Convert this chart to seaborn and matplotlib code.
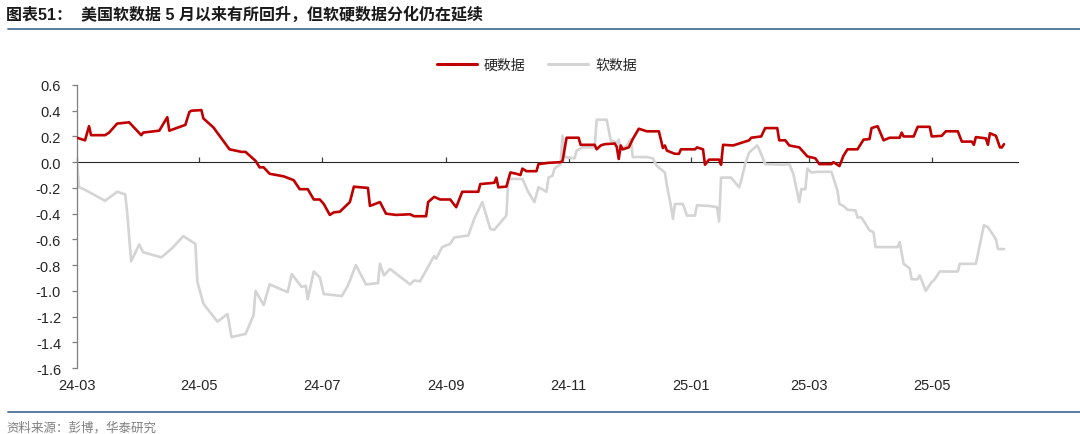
import pandas as pd
import seaborn as sns
import matplotlib.pyplot as plt
import matplotlib.dates as mdates
from matplotlib.lines import Line2D
from matplotlib.ticker import MultipleLocator, FuncFormatter, NullFormatter

# ------------------ DATA ------------------
TITLE = '图表51：  美国软数据 5 月以来有所回升，但软硬数据分化仍在延续'
SOURCE = '资料来源：彭博，华泰研究'
SERIES_NAMES = ['硬数据', '软数据']

hard_dates = [
    '2024-03-01', '2024-03-05', '2024-03-07', '2024-03-08', '2024-03-15', '2024-03-17',
    '2024-03-21', '2024-03-27', '2024-03-30', '2024-04-02', '2024-04-03', '2024-04-11',
    '2024-04-15', '2024-04-16', '2024-04-24', '2024-04-26', '2024-04-27', '2024-05-02',
    '2024-05-03', '2024-05-08', '2024-05-16', '2024-05-22', '2024-05-24', '2024-05-29',
    '2024-05-31', '2024-06-02', '2024-06-05', '2024-06-12', '2024-06-17', '2024-06-20',
    '2024-06-24', '2024-06-27', '2024-06-30', '2024-07-02', '2024-07-05', '2024-07-07',
    '2024-07-10', '2024-07-15', '2024-07-17', '2024-07-20', '2024-07-24', '2024-07-25',
    '2024-07-30', '2024-08-02', '2024-08-07', '2024-08-14', '2024-08-16', '2024-08-22',
    '2024-08-23', '2024-08-26', '2024-08-29', '2024-09-03', '2024-09-06', '2024-09-09',
    '2024-09-17', '2024-09-18', '2024-09-25', '2024-09-26', '2024-09-27', '2024-10-01',
    '2024-10-03', '2024-10-06', '2024-10-08', '2024-10-09', '2024-10-11', '2024-10-16',
    '2024-10-17', '2024-10-22', '2024-10-28', '2024-10-29', '2024-10-31', '2024-11-06',
    '2024-11-07', '2024-11-14', '2024-11-15', '2024-11-17', '2024-11-19', '2024-11-24',
    '2024-11-25', '2024-11-26', '2024-11-27', '2024-11-28', '2024-12-01', '2024-12-03',
    '2024-12-06', '2024-12-10', '2024-12-16', '2024-12-18', '2024-12-19', '2024-12-20',
    '2024-12-24', '2024-12-26', '2024-12-27', '2025-01-03', '2025-01-04', '2025-01-07',
    '2025-01-08', '2025-01-10', '2025-01-15', '2025-01-16', '2025-01-17', '2025-01-22',
    '2025-01-26', '2025-01-30', '2025-01-31', '2025-02-05', '2025-02-07', '2025-02-13',
    '2025-02-14', '2025-02-17', '2025-02-19', '2025-02-24', '2025-02-28', '2025-03-04',
    '2025-03-06', '2025-03-12', '2025-03-13', '2025-03-16', '2025-03-18', '2025-03-20',
    '2025-03-25', '2025-03-28', '2025-03-31', '2025-04-01', '2025-04-04', '2025-04-07',
    '2025-04-10', '2025-04-15', '2025-04-16', '2025-04-17', '2025-04-22', '2025-04-24',
    '2025-04-30', '2025-05-01', '2025-05-06', '2025-05-08', '2025-05-14', '2025-05-16',
    '2025-05-21', '2025-05-22', '2025-05-23', '2025-05-28', '2025-05-29', '2025-05-30',
    '2025-06-02', '2025-06-04', '2025-06-05', '2025-06-06',
]
hard_values = [
    0.19, 0.17, 0.28, 0.21, 0.21, 0.23,
    0.30, 0.31, 0.26, 0.21, 0.23, 0.245,
    0.35, 0.245, 0.29, 0.39, 0.40, 0.405,
    0.34, 0.27, 0.10, 0.08, 0.08, 0.01,
    -0.04, -0.04, -0.09, -0.11, -0.14, -0.21,
    -0.21, -0.29, -0.29, -0.325, -0.41, -0.39,
    -0.385, -0.31, -0.19, -0.195, -0.20, -0.34,
    -0.31, -0.40, -0.41, -0.405, -0.42, -0.42,
    -0.31, -0.27, -0.29, -0.29, -0.35, -0.23,
    -0.23, -0.17, -0.16, -0.12, -0.195, -0.19,
    -0.08, -0.09, -0.10, -0.05, -0.07, -0.07,
    -0.015, -0.005, 0.0, 0.01, 0.19, 0.19,
    0.135, 0.135, 0.10, 0.13, 0.14, 0.145,
    0.12, 0.025, 0.13, 0.10, 0.115, 0.18,
    0.26, 0.24, 0.24, 0.11, 0.13, 0.09,
    0.065, 0.065, 0.10, 0.10, 0.115, 0.10,
    -0.02, 0.02, 0.02, -0.02, 0.135, 0.13,
    0.15, 0.17, 0.19, 0.20, 0.265, 0.265,
    0.17, 0.17, 0.13, 0.115, 0.045, 0.03,
    -0.015, -0.015, 0.0, -0.03, 0.05, 0.10,
    0.10, 0.175, 0.18, 0.265, 0.28, 0.17,
    0.19, 0.19, 0.23, 0.20, 0.20, 0.275,
    0.275, 0.20, 0.205, 0.24, 0.24, 0.16,
    0.16, 0.135, 0.195, 0.185, 0.135, 0.225,
    0.205, 0.115, 0.115, 0.14,
]

soft_dates = [
    '2024-03-01', '2024-03-02', '2024-03-05', '2024-03-15', '2024-03-21', '2024-03-25',
    '2024-03-26', '2024-03-28', '2024-04-01', '2024-04-03', '2024-04-12', '2024-04-17',
    '2024-04-23', '2024-04-29', '2024-04-30', '2024-05-03', '2024-05-10', '2024-05-15',
    '2024-05-17', '2024-05-24', '2024-05-28', '2024-05-29', '2024-06-02', '2024-06-05',
    '2024-06-14', '2024-06-16', '2024-06-21', '2024-06-23', '2024-06-24', '2024-06-27',
    '2024-06-30', '2024-07-02', '2024-07-11', '2024-07-14', '2024-07-18', '2024-07-23',
    '2024-07-29', '2024-07-30', '2024-08-01', '2024-08-04', '2024-08-14', '2024-08-16',
    '2024-08-19', '2024-08-26', '2024-08-27', '2024-08-30', '2024-09-03', '2024-09-05',
    '2024-09-12', '2024-09-15', '2024-09-19', '2024-09-23', '2024-09-25', '2024-10-01',
    '2024-10-02', '2024-10-09', '2024-10-12', '2024-10-15', '2024-10-17', '2024-10-21',
    '2024-10-22', '2024-10-24', '2024-10-25', '2024-10-28', '2024-10-29', '2024-10-30',
    '2024-11-04', '2024-11-05', '2024-11-08', '2024-11-14', '2024-11-15', '2024-11-20',
    '2024-11-22', '2024-11-25', '2024-11-26', '2024-11-27', '2024-11-30', '2024-12-02',
    '2024-12-03', '2024-12-10', '2024-12-13', '2024-12-15', '2024-12-19', '2024-12-20',
    '2024-12-22', '2024-12-23', '2024-12-24', '2024-12-28', '2024-12-30', '2025-01-03',
    '2025-01-04', '2025-01-10', '2025-01-14', '2025-01-15', '2025-01-16', '2025-01-21',
    '2025-01-25', '2025-01-26', '2025-01-28', '2025-01-30', '2025-02-03', '2025-02-04',
    '2025-02-07', '2025-02-16', '2025-02-19', '2025-02-21', '2025-02-24', '2025-02-25',
    '2025-02-27', '2025-02-28', '2025-03-02', '2025-03-05', '2025-03-12', '2025-03-15',
    '2025-03-16', '2025-03-18', '2025-03-20', '2025-03-24', '2025-03-25', '2025-03-27',
    '2025-03-31', '2025-04-02', '2025-04-03', '2025-04-14', '2025-04-15', '2025-04-17',
    '2025-04-20', '2025-04-21', '2025-04-24', '2025-04-25', '2025-04-28', '2025-05-01',
    '2025-05-02', '2025-05-05', '2025-05-14', '2025-05-15', '2025-05-23', '2025-05-27',
    '2025-05-29', '2025-06-02', '2025-06-03', '2025-06-06',
]
soft_values = [
    0.0, -0.195, -0.215, -0.30, -0.23, -0.25,
    -0.39, -0.77, -0.64, -0.70, -0.74, -0.675,
    -0.575, -0.635, -0.93, -1.10, -1.24, -1.18,
    -1.36, -1.335, -1.19, -1.00, -1.11, -0.95,
    -1.01, -0.87, -0.97, -0.96, -1.065, -0.85,
    -0.895, -1.025, -1.04, -0.96, -0.80, -0.95,
    -0.94, -0.79, -0.88, -0.83, -0.95, -0.92,
    -0.925, -0.73, -0.75, -0.66, -0.635, -0.585,
    -0.57, -0.44, -0.31, -0.52, -0.525, -0.415,
    -0.13, -0.13, -0.235, -0.31, -0.195, -0.23,
    -0.12, -0.105, -0.05, -0.015, 0.205, 0.04,
    0.03, 0.09, 0.115, 0.115, 0.33, 0.33,
    0.17, 0.15, 0.175, 0.09, 0.13, 0.18,
    0.04, 0.04, 0.03, -0.03, -0.08, -0.18,
    -0.34, -0.44, -0.325, -0.325, -0.415, -0.415,
    -0.335, -0.34, -0.35, -0.46, -0.12, -0.12,
    -0.195, -0.145, -0.015, 0.075, 0.13, 0.10,
    -0.015, -0.02, -0.015, -0.09, -0.31, -0.21,
    -0.21, -0.05, -0.08, -0.075, -0.075, -0.22,
    -0.325, -0.34, -0.37, -0.375, -0.43, -0.43,
    -0.53, -0.545, -0.66, -0.66, -0.62, -0.79,
    -0.825, -0.91, -0.91, -0.88, -1.00, -0.93,
    -0.92, -0.85, -0.85, -0.79, -0.79, -0.49,
    -0.505, -0.60, -0.675, -0.675,
]

y_ticks = [-1.6, -1.4, -1.2, -1.0, -0.8, -0.6, -0.4, -0.2, 0.0, 0.2, 0.4, 0.6]
x_start, x_end = '2024-03-01', '2025-06-13'
# ---------------------------------------------------------------

RED = '#C00000'
GRAY = '#D4D4D4'
RULE = '#4F6F99'

sns.set_style('white')
plt.rcParams['font.family'] = ['Liberation Sans', 'Noto Sans CJK SC']
plt.rcParams['axes.unicode_minus'] = False

hard = pd.DataFrame({'date': pd.to_datetime(hard_dates), 'value': hard_values})
soft = pd.DataFrame({'date': pd.to_datetime(soft_dates), 'value': soft_values})

fig = plt.figure(figsize=(10.8, 4.35), dpi=100)
ax = fig.add_axes([0.0713, 0.1517, 0.8713, 0.6506])

sns.lineplot(data=soft, x='date', y='value', ax=ax, color=GRAY, linewidth=1.9,
             estimator=None, sort=False, zorder=2)
sns.lineplot(data=hard, x='date', y='value', ax=ax, color=RED, linewidth=1.9,
             estimator=None, sort=False, zorder=3)

ymin, ymax = y_ticks[0], y_ticks[-1]
ax.set_ylim(ymin, ymax)
ax.set_xlim(pd.Timestamp(x_start), pd.Timestamp(x_end))
ax.set_xlabel('')
ax.set_ylabel('')

# y axis
ax.yaxis.set_major_locator(MultipleLocator(0.2))
ax.yaxis.set_major_formatter(FuncFormatter(lambda v, p: f'{v:.1f}'))
ax.tick_params(axis='y', direction='out', length=3.5, width=0.9, color='#7F7F7F',
               pad=8, labelsize=10.5, labelcolor='#262626', left=True)

# x labels at the bottom, no bottom spine
months = mdates.MonthLocator(bymonth=[1, 3, 5, 7, 9, 11])
ax.xaxis.set_major_locator(months)
ax.xaxis.set_major_formatter(mdates.DateFormatter('%y-%m'))
ax.tick_params(axis='x', length=0, pad=7, labelsize=10.5, labelcolor='#262626')

for side in ['top', 'right', 'bottom']:
    ax.spines[side].set_visible(False)
ax.spines['left'].set_color('#7F7F7F')
ax.spines['left'].set_linewidth(0.9)

# zero line with ticks
zero_axis = ax.secondary_xaxis((0 - ymin) / (ymax - ymin))
zero_axis.xaxis.set_major_locator(mdates.MonthLocator(bymonth=[1, 3, 5, 7, 9, 11]))
zero_axis.xaxis.set_major_formatter(NullFormatter())
zero_axis.tick_params(axis='x', direction='out', length=3.5, width=0.9, color='#404040')
zero_axis.spines['bottom'].set_color('#404040')
zero_axis.spines['bottom'].set_linewidth(0.9)

# legend
handles = [Line2D([], [], color=RED, linewidth=2.2), Line2D([], [], color=GRAY, linewidth=2.2)]
fig.legend(handles, SERIES_NAMES, loc='center', bbox_to_anchor=(0.497, 0.848), ncol=2,
           frameon=False, fontsize=10, handlelength=2.9, columnspacing=1.6, handletextpad=0.5)

# title, rules, source
fig.text(0.006, 0.967, TITLE, fontsize=11.5, fontweight='bold', color='#1A1A1A',
         ha='left', va='center')
fig.add_artist(Line2D([0.007, 1.0], [0.931, 0.931], transform=fig.transFigure,
                      color=RULE, linewidth=1.3))
fig.add_artist(Line2D([0.007, 1.0], [0.051, 0.051], transform=fig.transFigure,
                      color=RULE, linewidth=1.3))
fig.text(0.006, 0.016, SOURCE, fontsize=9, color='#7F7F7F', ha='left', va='center')

fig.savefig('out.png', dpi=100)
